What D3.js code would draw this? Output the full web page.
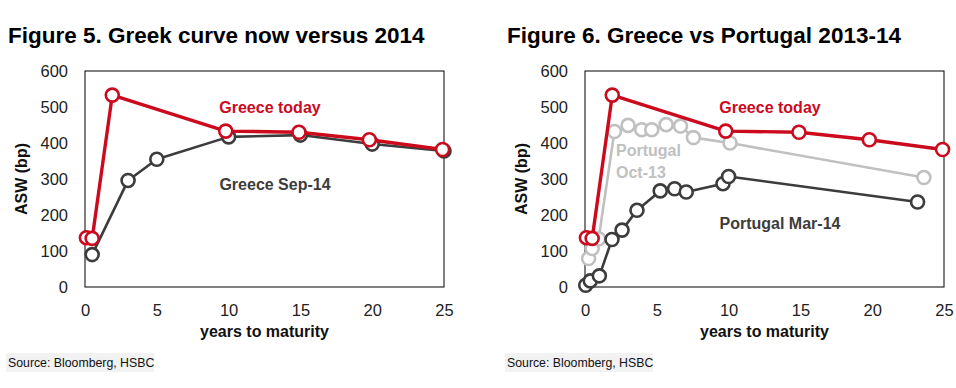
<!DOCTYPE html>
<html>
<head>
<meta charset="utf-8">
<script src="https://cdn.jsdelivr.net/npm/d3@7"></script>
<style>
	body { margin: 0; background: #fff; }
	svg { display: block; font-family: "Liberation Sans", Arial, sans-serif; }
</style>
</head>
<body>
<svg id="chart" width="956" height="388"></svg>
<script>
!(function(){
	"use strict";

	// years to maturity / ASW (bp)
	let greeceTodayX = [0.1, 0.5, 1.9, 9.8, 14.9, 19.8, 24.9],
		greeceTodayY = [137, 135, 533, 433, 430, 409, 382],
		greeceSepX = [0.5, 3, 5, 10, 15, 20, 25],
		greeceSepY = [90, 296, 355, 417, 422, 397, 378],
		portOctX = [0.25, 0.5, 0.95, 2.05, 3.0, 3.95, 4.65, 5.65, 6.65, 7.55, 10.1, 23.6],
		portOctY = [79, 107, 134, 432, 449, 437, 437, 451, 447, 415, 400, 304],
		portMarX = [0.05, 0.37, 1.0, 1.88, 2.58, 3.62, 5.24, 6.24, 7.05, 9.61, 10.0, 23.16],
		portMarY = [5, 17, 31, 132, 158, 213, 267, 273, 264, 287, 307, 236],
		xTicks = [0, 5, 10, 15, 20, 25],
		yTicks = [0, 100, 200, 300, 400, 500, 600];

	const RED = '#cc0a1e', DARK = '#3c3c3c', LIGHT = '#c0c0c0';

	let svg = d3.select('#chart');

	let zip = (xs, ys) => xs.map((x, i) => ({x: x, y: ys[i]}));

	let drawPanel = (conf) => {
		let g = svg.append('g'),
			x = d3.scaleLinear().domain([0, 25]).range([conf.left, conf.left + 359]),
			y = d3.scaleLinear().domain([0, 600]).range([287, 71]);

		g.append('text')
			.attr('x', conf.titleX).attr('y', 43)
			.attr('font-size', 22.5).attr('font-weight', 'bold').attr('fill', '#000')
			.text(conf.title);

		g.append('rect')
			.attr('x', x(0)).attr('y', y(600))
			.attr('width', x(25) - x(0)).attr('height', y(0) - y(600))
			.attr('fill', 'none').attr('stroke', '#000').attr('stroke-width', 1);

		// axes without lines or ticks, only the labels
		let yAxis = g.append('g')
			.attr('transform', 'translate(' + (x(0) - 17) + ',0)')
			.call(d3.axisLeft(y).tickValues(yTicks).tickSize(0).tickPadding(0));
		let xAxis = g.append('g')
			.attr('transform', 'translate(0,' + (y(0) + 17) + ')')
			.call(d3.axisBottom(x).tickValues(xTicks).tickSize(0).tickPadding(0));
		[yAxis, xAxis].forEach((a) => {
			a.select('.domain').remove();
			a.selectAll('text')
				.attr('font-family', '"Liberation Sans", Arial, sans-serif')
				.attr('font-size', 16.5).attr('fill', '#222');
		});
		yAxis.selectAll('text').attr('dy', '0.36em');
		xAxis.selectAll('text').attr('dy', '0.72em');

		g.append('text')
			.attr('x', (x(0) + x(25)) / 2).attr('y', 337)
			.attr('text-anchor', 'middle')
			.attr('font-size', 16).attr('font-weight', 'bold').attr('fill', '#111')
			.text('years to maturity');

		g.append('text')
			.attr('transform', 'translate(' + (conf.left - 58) + ',179) rotate(-90)')
			.attr('text-anchor', 'middle')
			.attr('font-size', 16).attr('font-weight', 'bold').attr('fill', '#111')
			.text('ASW (bp)');

		let line = d3.line().x((d) => x(d.x)).y((d) => y(d.y));

		conf.series.forEach((s) => {
			let data = zip(s.xs, s.ys);
			g.append('path')
				.datum(data)
				.attr('d', line)
				.attr('fill', 'none')
				.attr('stroke', s.color)
				.attr('stroke-width', s.width)
				.attr('stroke-linejoin', 'round');
			g.append('g').selectAll('circle')
				.data(data)
				.enter()
				.append('circle')
				.attr('cx', (d) => x(d.x))
				.attr('cy', (d) => y(d.y))
				.attr('r', 6.5)
				.attr('fill', '#fff')
				.attr('stroke', s.color)
				.attr('stroke-width', 2.6);
		});

		conf.labels.forEach((l) => {
			let t = g.append('text')
				.attr('x', l.x).attr('y', l.y)
				.attr('text-anchor', l.anchor || 'middle')
				.attr('font-size', 16).attr('font-weight', 'bold').attr('fill', l.color);
			l.lines.forEach((s, i) => {
				t.append('tspan').attr('x', l.x).attr('dy', i ? 22 : 0).text(s);
			});
		});

		let src = g.append('g');
		src.append('rect')
			.attr('x', conf.titleX - 2).attr('y', 353)
			.attr('width', 148).attr('height', 19)
			.attr('fill', '#f2f2f2');
		src.append('text')
			.attr('x', conf.titleX).attr('y', 367)
			.attr('font-size', 12.3).attr('fill', '#111')
			.text('Source: Bloomberg, HSBC');
	};

	drawPanel({
		title: 'Figure 5. Greek curve now versus 2014',
		titleX: 8,
		left: 85,
		series: [
			{xs: greeceSepX, ys: greeceSepY, color: DARK, width: 2.6},
			{xs: greeceTodayX, ys: greeceTodayY, color: RED, width: 3.4}
		],
		labels: [
			{x: 270, y: 113, color: RED, lines: ['Greece today']},
			{x: 275, y: 190, color: DARK, lines: ['Greece Sep-14']}
		]
	});

	drawPanel({
		title: 'Figure 6. Greece vs Portugal 2013-14',
		titleX: 507,
		left: 585,
		series: [
			{xs: portOctX, ys: portOctY, color: LIGHT, width: 2.6},
			{xs: portMarX, ys: portMarY, color: DARK, width: 2.6},
			{xs: greeceTodayX, ys: greeceTodayY, color: RED, width: 3.4}
		],
		labels: [
			{x: 770, y: 113, color: RED, lines: ['Greece today']},
			{x: 616, y: 156, color: LIGHT, anchor: 'start', lines: ['Portugal', 'Oct-13']},
			{x: 780, y: 229, color: DARK, lines: ['Portugal Mar-14']}
		]
	});
}());
</script>
</body>
</html>
